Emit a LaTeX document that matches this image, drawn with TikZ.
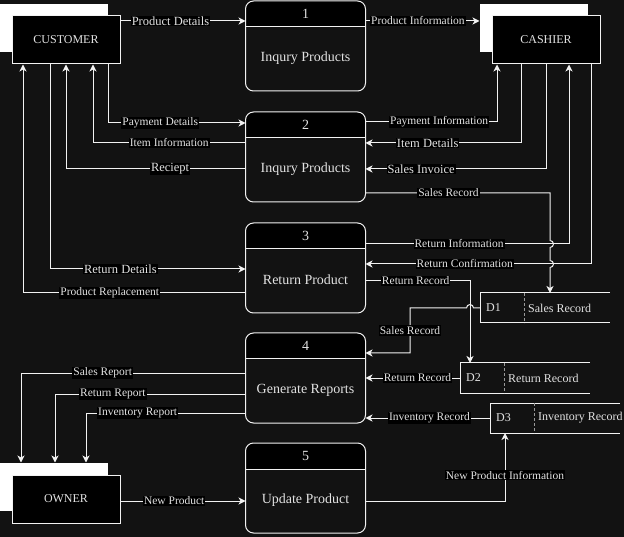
\documentclass[tikz,border=0pt]{standalone}
\usepackage{fontspec}
\setmainfont{Liberation Serif}
\usetikzlibrary{arrows.meta, shadows}

\definecolor{bg}{HTML}{121212}
\definecolor{wirec}{HTML}{F2F2F2}
\definecolor{txt}{HTML}{E2E2E2}

\tikzset{
  wire/.style={draw=wirec, line width=1pt},
  flow/.style={wire, -{Stealth[length=7pt, width=7pt, inset=2pt]}},
  lbl/.style={fill=black, text=txt, inner sep=1pt, font=\fontsize{11.5}{12}\selectfont},
  lblbig/.style={lbl, font=\fontsize{12.5}{13}\selectfont},
  entity/.style={draw=wirec, line width=1pt, fill=black, text=txt,
    minimum width=108pt, minimum height=48pt, font=\fontsize{12}{14}\selectfont,
    general shadow={fill=white, shadow xshift=-12pt, shadow yshift=12pt}},
  proc/.style={minimum width=120pt, minimum height=90pt, inner sep=0pt, outer sep=0pt},
  ptext/.style={text=txt, font=\fontsize{14}{16}\selectfont},
  store/.style={minimum width=130pt, minimum height=30pt, inner sep=0pt, outer sep=0pt},
  stxt/.style={text=txt, inner sep=1pt, anchor=west, font=\fontsize{12}{14}\selectfont}
}

\begin{document}
\begin{tikzpicture}[x=1pt, y=-1pt]
    \fill[bg] (0,0) rectangle (624,537);
    \useasboundingbox (0,0) rectangle (624,537);

    % external entities
    \node[entity] (cust) at (66,40) {CUSTOMER};
    \node[entity] (cash) at (546,40) {CASHIER};
    \node[entity] (owner) at (66,499) {OWNER};
    \coordinate (cleft) at ([xshift=-12pt]cash.west);
    \coordinate (otop) at ([yshift=12pt]owner.north);

    % processes
    \foreach \n/\yc/\txt in {1/46/Inqury Products, 2/157/Inqury Products, 3/268/Return Product, 4/378/Generate Reports, 5/488/Update Product}{
        \node[proc] (p\n) at (305.5,\yc) {};
        \begin{scope}
            \clip[rounded corners=8pt] (p\n.north west) rectangle (p\n.south east);
            \fill[black] (p\n.north west) rectangle ([yshift=-26pt]p\n.north east);
        \end{scope}
        \draw[wire] ([yshift=-26pt]p\n.north west) -- ([yshift=-26pt]p\n.north east);
        \draw[wire, rounded corners=8pt] (p\n.north west) rectangle (p\n.south east);
        \node[ptext] at ([yshift=-13pt]p\n.north) {\n};
        \node[ptext] at ([yshift=-57pt]p\n.north) {\txt};
    }

    % data stores
    \foreach \n/\xl/\yt/\txt in {1/480/293/Sales Record, 2/460/363/Return Record, 3/490/403/Inventory Record}{
        \node[store] (d\n) at (\xl+65,\yt+15) {};
        \draw[wire] (d\n.north east) -- (d\n.north west) -- (d\n.south west) -- (d\n.south east);
        \draw[wire, draw=gray!80, dash pattern=on 3pt off 2pt] ([xshift=44pt]d\n.north west) -- ([xshift=44pt]d\n.south west);
        \node[stxt] at ([xshift=5pt]d\n.west) {D\n};
        \node[stxt] at ([xshift=47pt]d\n.west) {\txt};
    }

    % customer flows
    \draw[flow] (cust.east |- 0,21) -- node[lblbig, pos=0.4] {Product Details} (p1.west |- 0,21);
    \draw[flow] (cust.south -| 108,0) |- node[lbl, pos=0.69] {Payment Details} (p2.west |- 0,123);
    \draw[flow] (p2.west |- 0,143) -| node[lbl, pos=0.25] {Item Information} (cust.south -| 93,0);
    \draw[flow] (p2.west |- 0,169) -| node[lblbig, pos=0.21] {Reciept} (cust.south -| 66,0);
    \draw[flow] (cust.south -| 50,0) |- node[lblbig, pos=0.68] {Return Details} (p3.west |- 0,269);
    \draw[flow] (p3.west |- 0,293) -| node[lbl, pos=0.305] {Product Replacement} (cust.south -| 23,0);

    % cashier flows
    \draw[flow] (p1.east |- 0,21) -- node[lbl, pos=0.46] {Product Information} (cleft |- 0,21);
    \draw[flow] (p2.east |- 0,122) -| node[lbl, pos=0.28] {Payment Information} (cash.south -| 497,0);
    \draw[flow] (cash.south -| 521,0) |- node[lblbig, pos=0.8] {Item Details} (p2.east |- 0,143);
    \draw[flow] (cash.south -| 546,0) |- node[lblbig, pos=0.846] {Sales Invoice} (p2.east |- 0,169);
    \draw[flow] (p3.east |- 0,244) -| node[lbl, pos=0.23] {Return Information} (cash.south -| 569,0);
    \draw[flow] (cash.south -| 591,0) |- node[lbl, pos=0.78] {Return Confirmation} (p3.east |- 0,264);

    % store flows
    \draw[flow] (p2.east |- 0,193) -- node[lbl, pos=0.45] {Sales Record} (550,193)
        -- (550,240.5) arc[start angle=-90, end angle=90, radius=3.5]
        -- (550,260.5) arc[start angle=-90, end angle=90, radius=3.5]
        -- (d1.north -| 550,0);
    \draw[flow] (p3.east |- 0,281) -| node[lbl, pos=0.24] {Return Record} (d2.north -| 470,0);
    \draw[flow] (d1.west) -- (473.5,308) arc[start angle=0, end angle=-180, radius=3.5]
        -- (410,308) -- node[lbl] {Sales Record} (410,353) -- (p4.east |- 0,353);
    \draw[flow] (d2.west) -- node[lbl, pos=0.45] {Return Record} (p4.east |- d2.west);
    \draw[flow] (d3.west) -- node[lbl, pos=0.486] {Inventory Record} (p4.east |- d3.west);

    % owner flows
    \draw[flow] (p4.west |- 0,373) -| node[lbl, pos=0.318] {Sales Report} (otop -| 21,0);
    \draw[flow] (p4.west |- 0,394) -| node[lbl, pos=0.348] {Return Report} (otop -| 55,0);
    \draw[flow] (p4.west |- 0,413) -| node[lbl, pos=0.338] {Inventory Report} (otop -| 86,0);
    \draw[flow] (owner.east |- 0,501) -- node[lbl, pos=0.43] {New Product} (p5.west |- 0,501);
    \draw[flow] (p5.east |- 0,501) -| node[lbl, pos=0.69] {New Product Information} (d3.south -| 505,0);

\end{tikzpicture}
\end{document}
